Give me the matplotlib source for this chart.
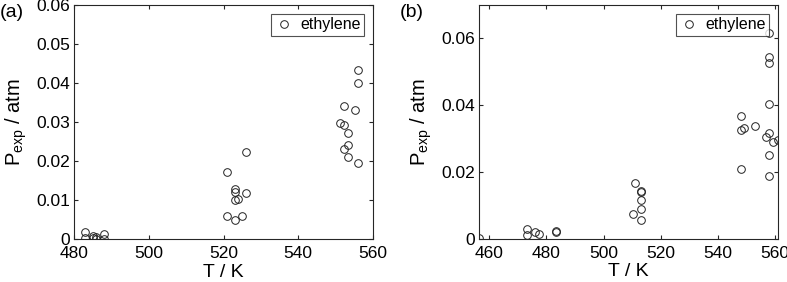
import matplotlib
matplotlib.use("Agg")
import matplotlib.pyplot as plt

plt.rcParams['font.family'] = ['Liberation Sans', 'DejaVu Sans']

# Panel (a) data
Ta = [483, 483, 485, 485, 486, 486, 488, 488,
      521, 526, 523, 523, 523, 524, 526, 521, 523, 525,
      556.1, 556.1, 552.1, 555.1, 551.1, 552.1, 553.2, 553.2, 552.1, 553.2, 556.1]
Pa = [0.0019, 0.0004, 0.0010, 0.0004, 0.0002, 0.0005, 0.0013, 0.0002,
      0.0172, 0.0225, 0.0128, 0.0121, 0.0100, 0.0103, 0.0118, 0.0061, 0.0050, 0.0061,
      0.0433, 0.0400, 0.0341, 0.0332, 0.0298, 0.0293, 0.0273, 0.0242, 0.0232, 0.0211, 0.0196]

# Panel (b) data
Tb = [456.4, 473.2, 473.2, 476.1, 477.3, 483.4, 483.4,
      511.0, 513.1, 513.1, 513.1, 513.1, 510.2, 513.1,
      558.0, 558.0, 558.0, 558.0, 548.0, 548.0, 549.2, 553.0, 556.9, 558.0, 559.1, 561.0,
      558.0, 548.0, 558.0]
Pb = [0.0002, 0.0029, 0.0010, 0.0019, 0.0013, 0.0022, 0.0020,
      0.0166, 0.0143, 0.0140, 0.0115, 0.0089, 0.0073, 0.0055,
      0.0617, 0.0545, 0.0525, 0.0403, 0.0367, 0.0325, 0.0332, 0.0337, 0.0305, 0.0317, 0.0290, 0.0297,
      0.0252, 0.0210, 0.0188]

xticks_a = [480, 500, 520, 540, 560]
yticks_a = [0, 0.01, 0.02, 0.03, 0.04, 0.05, 0.06]
yticklabels_a = ['0', '0.01', '0.02', '0.03', '0.04', '0.05', '0.06']
xticks_b = [460, 480, 500, 520, 540, 560]
yticks_b = [0, 0.02, 0.04, 0.06]
yticklabels_b = ['0', '0.02', '0.04', '0.06']

fig = plt.figure(figsize=(7.87, 2.82), dpi=100)
axc = '#262626'
fs = 12.5

def style(ax):
    for s in ax.spines.values():
        s.set_color(axc)
        s.set_linewidth(0.8)
    ax.tick_params(direction='in', top=True, right=True, length=3, width=0.8,
                   color=axc, labelsize=fs)
    ax.tick_params(axis='x', pad=5)
    ax.tick_params(axis='y', pad=3)

def legend(ax):
    leg = ax.legend(loc='upper right', fontsize=11.5, frameon=True, fancybox=False,
                    edgecolor=axc, handletextpad=0.4, borderpad=0.22, handlelength=1.2,
                    borderaxespad=0.55)
    leg.get_frame().set_linewidth(0.8)

ax1 = fig.add_axes([0.094, 0.151, 0.380, 0.831])
ax1.plot(Ta, Pa, 'o', mfc='none', mec='#222222', ms=5.5, mew=0.7, label='ethylene')
ax1.set_xlim(480, 560)
ax1.set_ylim(0, 0.06)
ax1.set_xticks(xticks_a)
ax1.set_yticks(yticks_a)
ax1.set_yticklabels(yticklabels_a)
style(ax1)
ax1.set_xlabel('T / K', fontsize=14, labelpad=2)
ax1.set_ylabel(r'P$_{\mathregular{exp}}$ / atm', fontsize=14.5, labelpad=5)
legend(ax1)
fig.text(0.0, 0.985, '(a)', fontsize=14, ha='left', va='top')

ax2 = fig.add_axes([0.6086, 0.154, 0.380, 0.828])
ax2.plot(Tb, Pb, 'o', mfc='none', mec='#222222', ms=5.5, mew=0.7, label='ethylene')
ax2.set_xlim(min(Tb), max(Tb))
ax2.set_ylim(0, 0.07)
ax2.set_xticks(xticks_b)
ax2.set_yticks(yticks_b)
ax2.set_yticklabels(yticklabels_b)
style(ax2)
ax2.set_xlabel('T / K', fontsize=14, labelpad=2)
ax2.set_ylabel(r'P$_{\mathregular{exp}}$ / atm', fontsize=14.5, labelpad=5)
legend(ax2)
fig.text(0.508, 0.985, '(b)', fontsize=14, ha='left', va='top')

fig.savefig('out.png', dpi=100)
